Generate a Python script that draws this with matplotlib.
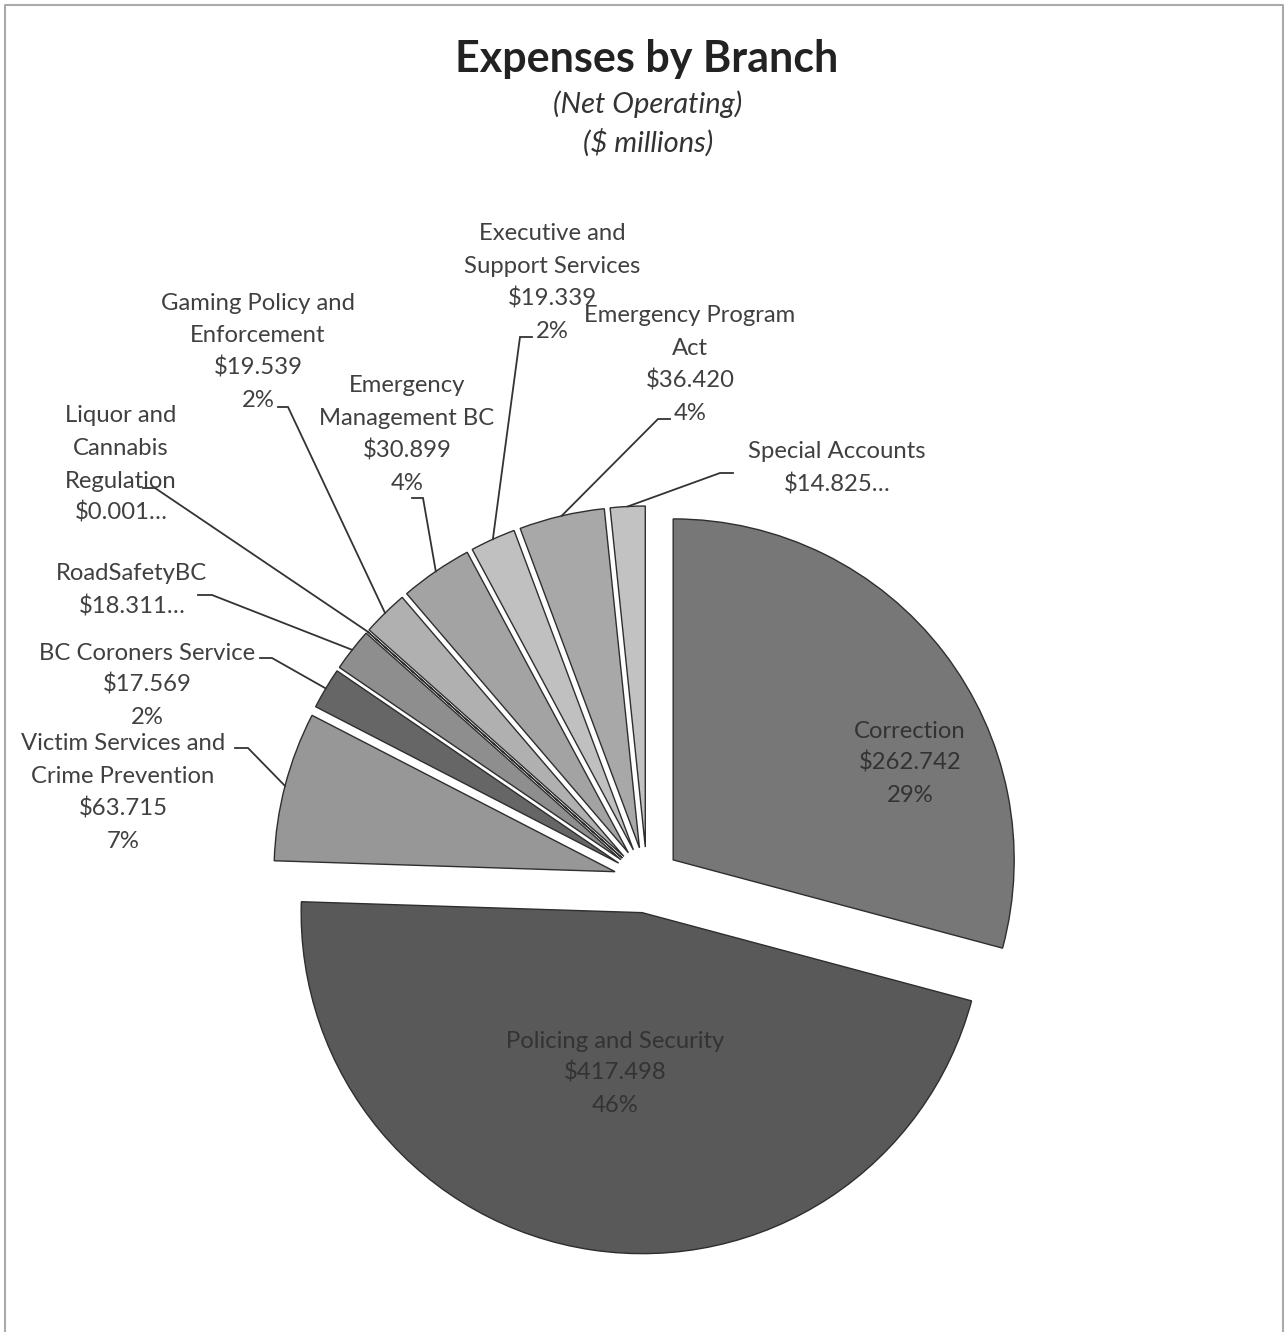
import matplotlib
matplotlib.use("Agg")
import matplotlib.pyplot as plt
import numpy as np

# ---------------- data ----------------
branches = [
    "Correction",
    "Policing and Security",
    "Victim Services and\nCrime Prevention",
    "BC Coroners Service",
    "RoadSafetyBC",
    "Liquor and\nCannabis\nRegulation",
    "Gaming Policy and\nEnforcement",
    "Emergency\nManagement BC",
    "Executive and\nSupport Services",
    "Emergency Program\nAct",
    "Special Accounts",
]
values = [262.742, 417.498, 63.715, 17.569, 18.311, 0.001, 19.539, 30.899, 19.339, 36.420, 14.825]
value_labels = ["$262.742", "$417.498", "$63.715", "$17.569", "$18.311…", "$0.001…",
                "$19.539", "$30.899", "$19.339", "$36.420", "$14.825…"]
pct_labels = ["29%", "46%", "7%", "2%", "", "", "2%", "4%", "2%", "4%", ""]

title = "Expenses by Branch"
subtitle1 = "(Net Operating)"
subtitle2 = "($ millions)"

# ---------------- style / layout ----------------
colors = ["#777777", "#595959", "#979797", "#666666", "#8e8e8e", "#4a4a4a",
          "#b0b0b0", "#a3a3a3", "#c0c0c0", "#a8a8a8", "#c2c2c2"]
W, H = 1285, 1332
FONT = ["Lato", "DejaVu Sans"]
LS = 32.5          # line step in pixels
FS = 17.2          # label font size (pt)

# first-line centre (x, y) in pixels for each label
label_pos = [
    (910, 729), (615, 1039), (123, 742), (147, 651), (132, 572), (121, 414),
    (258, 301), (407, 384), (552, 232), (690, 314), (837, 450),
]
# leader lines: (start, elbow) in pixels, None = inside label
leaders = [
    None, None,
    ((235, 748), (248, 748)),
    ((260, 658), (272, 658)),
    ((198, 595), (212, 595)),
    ((143, 488), (155, 488)),
    ((278, 407), (288, 407)),
    ((412, 498), (423, 498)),
    ((532, 337), (520, 337)),
    ((670, 419), (658, 419)),
    ((733, 473), (720, 473)),
]


def Y(py):
    return H - py


fig = plt.figure(figsize=(W / 100, H / 100), dpi=100)
ax = fig.add_axes([0, 0, 1, 1])

wedges, _ = ax.pie(
    values, colors=colors, startangle=90, counterclock=False,
    radius=341, center=(647, Y(880)), explode=[33] * len(values),
    wedgeprops=dict(edgecolor="#2e2e2e", linewidth=1.0),
    frame=False,
)
ax.set_xlim(0, W)
ax.set_ylim(0, H)
ax.set_aspect("auto")
ax.axis("off")

# labels
for i, (name, vl, pl) in enumerate(zip(branches, value_labels, pct_labels)):
    lines = name.split("\n") + [vl] + ([pl] if pl else [])
    x0, y0 = label_pos[i]
    inside = leaders[i] is None
    col = "#333333" if inside else "#404040"
    for k, line in enumerate(lines):
        ax.text(x0, Y(y0 + k * LS + 8.5), line, ha="center", va="baseline",
                fontsize=FS, color=col, family=FONT)
    if not inside:
        w = wedges[i]
        th = np.deg2rad((w.theta1 + w.theta2) / 2)
        cx, cy = w.center
        px, py = cx + w.r * np.cos(th), cy + w.r * np.sin(th)
        (sx, sy), (ex, ey) = leaders[i]
        ax.plot([sx, ex, px], [Y(sy), Y(ey), py], color="#333333", lw=1.3,
                solid_joinstyle="miter")

# titles
ax.text(647, Y(72), title, ha="center", va="baseline", fontsize=31,
        fontweight="bold", color="#222222", family=FONT)
ax.text(648, Y(113), subtitle1, ha="center", va="baseline", fontsize=21,
        style="italic", color="#333333", family=FONT)
ax.text(648, Y(152), subtitle2, ha="center", va="baseline", fontsize=21,
        style="italic", color="#333333", family=FONT)

# frame border (left, top, right)
ax.plot([5, 5, 1283, 1283], [0, Y(5), Y(5), 0], color="#aaaaaa", lw=1.5)

fig.savefig("out.png", dpi=100)
